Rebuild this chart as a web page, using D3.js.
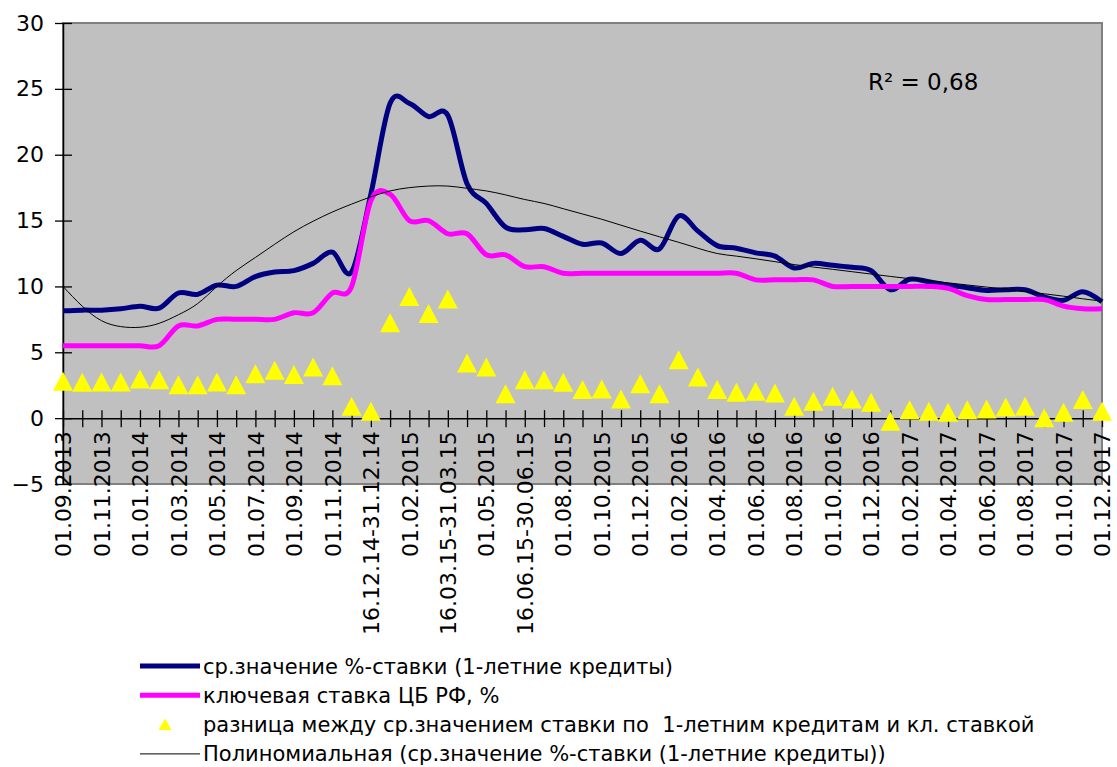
<!DOCTYPE html>
<html>
<head>
<meta charset="utf-8">
<script src="https://cdn.jsdelivr.net/npm/d3@7"></script>
<style>
  body { margin: 0; background: #ffffff; }
  svg { display: block; }
</style>
</head>
<body>
<div class="chart"></div>
<script>
	// categories (periods)
	var periods = [
		"01.09.2013", "01.10.2013", "01.11.2013", "01.12.2013", "01.01.2014", "01.02.2014",
		"01.03.2014", "01.04.2014", "01.05.2014", "01.06.2014", "01.07.2014", "01.08.2014",
		"01.09.2014", "01.10.2014", "01.11.2014", "01.12.14-15.12.14", "16.12.14-31.12.14",
		"01.01.2015", "01.02.2015", "01.03.15-15.03.15", "16.03.15-31.03.15", "01.04.2015",
		"01.05.2015", "01.06.15-15.06.15", "16.06.15-30.06.15", "01.07.2015", "01.08.2015",
		"01.09.2015", "01.10.2015", "01.11.2015", "01.12.2015", "01.01.2016", "01.02.2016",
		"01.03.2016", "01.04.2016", "01.05.2016", "01.06.2016", "01.07.2016", "01.08.2016",
		"01.09.2016", "01.10.2016", "01.11.2016", "01.12.2016", "01.01.2017", "01.02.2017",
		"01.03.2017", "01.04.2017", "01.05.2017", "01.06.2017", "01.07.2017", "01.08.2017",
		"01.09.2017", "01.10.2017", "01.11.2017", "01.12.2017"
	];

	// ср.значение %-ставки (1-летние кредиты)
	var avgRate = [
		8.15, 8.2, 8.2, 8.3, 8.5, 8.35, 9.5, 9.4, 10.1, 10.0, 10.75, 11.1, 11.2, 11.75, 12.6,
		11.1, 17.0, 23.9, 23.9, 22.9, 23.0, 17.8, 16.3, 14.5, 14.3, 14.4, 13.8, 13.2, 13.3,
		12.5, 13.5, 12.85, 15.35, 14.2, 13.1, 12.9, 12.55, 12.3, 11.4, 11.75, 11.6, 11.45,
		11.2, 9.75, 10.55, 10.35, 10.1, 9.9, 9.7, 9.75, 9.75, 9.2, 8.95, 9.6, 8.83
	];

	// ключевая ставка ЦБ РФ, %
	var keyRate = [
		5.5, 5.5, 5.5, 5.5, 5.5, 5.5, 7.0, 7.0, 7.5, 7.5, 7.5, 7.5, 8.0, 8.0, 9.5,
		10.0, 16.5, 17.0, 15.0, 15.0, 14.0, 14.0, 12.4, 12.4, 11.5, 11.5, 11.0, 11.0, 11.0,
		11.0, 11.0, 11.0, 11.0, 11.0, 11.0, 11.0, 10.5, 10.5, 10.5, 10.5, 10.0, 10.0,
		10.0, 10.0, 10.0, 10.0, 9.85, 9.3, 9.0, 9.0, 9.0, 9.0, 8.5, 8.3, 8.3
	];

	// разница между ставками
	var spread = [
		2.76, 2.68, 2.7, 2.7, 2.94, 2.88, 2.5, 2.5, 2.7, 2.5, 3.34, 3.6, 3.27, 3.85, 3.19,
		0.86, 0.48, 7.2, 9.2, 7.9, 9.0, 4.15, 3.85, 1.82, 2.88, 2.88, 2.68, 2.13, 2.18,
		1.42, 2.58, 1.82, 4.4, 3.09, 2.13, 1.92, 2.0, 1.87, 0.86, 1.24, 1.62, 1.42,
		1.16, -0.28, 0.6, 0.48, 0.4, 0.6, 0.66, 0.81, 0.86, 0.0, 0.4, 1.37, 0.48
	];

	// полиномиальная линия тренда
	var trend = [
		10.0, 8.5, 7.4, 6.95, 6.9, 7.2, 7.85, 8.7, 10.0, 11.2, 12.2, 13.2, 14.15, 14.95, 15.65,
		16.25, 16.8, 17.25, 17.5, 17.62, 17.62, 17.45, 17.25, 16.95, 16.6, 16.3, 15.9, 15.5, 15.1,
		14.65, 14.2, 13.77, 13.35, 12.9, 12.5, 12.3, 12.1, 11.88, 11.66, 11.47, 11.3, 11.12,
		10.94, 10.76, 10.59, 10.43, 10.27, 10.11, 9.95, 9.8, 9.62, 9.44, 9.26, 9.06, 8.88
	];

	var yTicks = [-5, 0, 5, 10, 15, 20, 25, 30];
	var r2Label = "R² = 0,68";

	var legendItems = [
		{ type: "line", color: "#000080", width: 5, text: "ср.значение %-ставки (1-летние кредиты)" },
		{ type: "line", color: "#ff00ff", width: 5, text: "ключевая ставка ЦБ РФ, %" },
		{ type: "marker", color: "#ffff00", text: "разница между ср.значением ставки по  1-летним кредитам и кл. ставкой" },
		{ type: "line", color: "#000000", width: 1, text: "Полиномиальная (ср.значение %-ставки (1-летние кредиты))" }
	];

	var width = 1117, height = 767;
	var font = "'DejaVu Sans', sans-serif";

	// set margins (plot area)
	var margin = { left: 63, right: 15, top: 23, bottom: 283 };

	var svg = d3.select(".chart")
		.append("svg")
			.attr("width", width)
			.attr("height", height);

	// scales
	var xScale = d3.scalePoint()
		.domain(periods)
		.range([margin.left, width - margin.right]);
	var yScale = d3.scaleLinear()
		.domain([-5, 30])
		.range([height - margin.bottom, margin.top]);

	// plot background
	svg.append("rect")
		.attr("x", margin.left)
		.attr("y", margin.top)
		.attr("width", width - margin.left - margin.right)
		.attr("height", height - margin.top - margin.bottom)
		.attr("fill", "#c0c0c0")
		.attr("stroke", "#808080")
		.attr("stroke-width", 2);

	// y axis
	var yAxis = svg.append("g")
		.attr("transform", "translate(" + margin.left + ",0)")
		.call(d3.axisLeft(yScale).tickValues(yTicks).tickSizeInner(8).tickSizeOuter(0).tickPadding(11));
	yAxis.select(".domain").attr("stroke", "#000").attr("stroke-width", 1.5);
	yAxis.selectAll(".tick line").attr("x1", 9).attr("stroke", "#000").attr("stroke-width", 1.3);
	yAxis.selectAll(".tick text")
		.attr("font-family", font)
		.attr("font-size", "22px")
		.attr("fill", "#000");

	// lines
	var rateLine = d3.line()
		.x(function(d, i) { return xScale(periods[i]); })
		.y(function(d) { return yScale(d); })
		.curve(d3.curveCardinal.tension(0));

	var trendLine = d3.line()
		.x(function(d, i) { return xScale(periods[i]); })
		.y(function(d) { return yScale(d); })
		.curve(d3.curveNatural);

	svg.append("path")
		.datum(avgRate)
		.attr("d", rateLine)
		.attr("fill", "none")
		.attr("stroke", "#000080")
		.attr("stroke-width", 5)
		.attr("stroke-linejoin", "round");

	svg.append("path")
		.datum(keyRate)
		.attr("d", rateLine)
		.attr("fill", "none")
		.attr("stroke", "#ff00ff")
		.attr("stroke-width", 5)
		.attr("stroke-linejoin", "round");

	// x axis at zero
	var xAxis = svg.append("g")
		.attr("transform", "translate(0," + yScale(0) + ")")
		.call(d3.axisBottom(xScale)
			.tickSizeInner(9).tickSizeOuter(0)
			.tickFormat(function(d, i) { return i % 2 === 0 ? d : ""; }));
	xAxis.select(".domain").attr("stroke", "#000").attr("stroke-width", 1.5);
	xAxis.selectAll(".tick line").attr("y1", -8).attr("stroke", "#000").attr("stroke-width", 1.3);
	xAxis.selectAll(".tick text")
		.attr("font-family", font)
		.attr("font-size", "22px")
		.attr("fill", "#000")
		.attr("text-anchor", "end")
		.attr("transform", "rotate(-90)")
		.attr("x", -13)
		.attr("y", 0)
		.attr("dy", "0.35em");

	// triangles
	var tri = "M0,-10L10,9L-10,9Z";
	svg.selectAll(".spread")
		.data(spread)
		.enter()
		.append("path")
			.attr("class", "spread")
			.attr("d", tri)
			.attr("fill", "#ffff00")
			.attr("transform", function(d, i) {
				return "translate(" + xScale(periods[i]) + "," + yScale(d) + ")";
			});

	// trend line
	svg.append("path")
		.datum(trend)
		.attr("d", trendLine)
		.attr("fill", "none")
		.attr("stroke", "#000")
		.attr("stroke-width", 1);

	svg.append("text")
		.attr("x", 868)
		.attr("y", 90)
		.attr("font-family", font)
		.attr("font-size", "23px")
		.attr("fill", "#000")
		.text(r2Label);

	// legend
	var legend = svg.append("g")
		.attr("transform", "translate(140,666)");

	var rows = legend.selectAll(".row")
		.data(legendItems)
		.enter()
		.append("g")
			.attr("class", "row")
			.attr("transform", function(d, i) { return "translate(0," + (i * 29.3) + ")"; });

	rows.filter(function(d) { return d.type === "line"; })
		.append("line")
			.attr("x1", 0)
			.attr("x2", 60)
			.attr("y1", 0)
			.attr("y2", 0)
			.attr("stroke", function(d) { return d.color; })
			.attr("stroke-width", function(d) { return d.width; });

	rows.filter(function(d) { return d.type === "marker"; })
		.append("path")
			.attr("d", "M0,-6L6.5,5.5L-6.5,5.5Z")
			.attr("transform", "translate(25,0)")
			.attr("fill", function(d) { return d.color; });

	rows.append("text")
		.attr("x", 63)
		.attr("y", 0)
		.attr("dy", "0.36em")
		.attr("font-family", font)
		.attr("font-size", "21px")
		.attr("fill", "#000")
		.style("white-space", "pre")
		.text(function(d) { return d.text; });
</script>
</body>
</html>
